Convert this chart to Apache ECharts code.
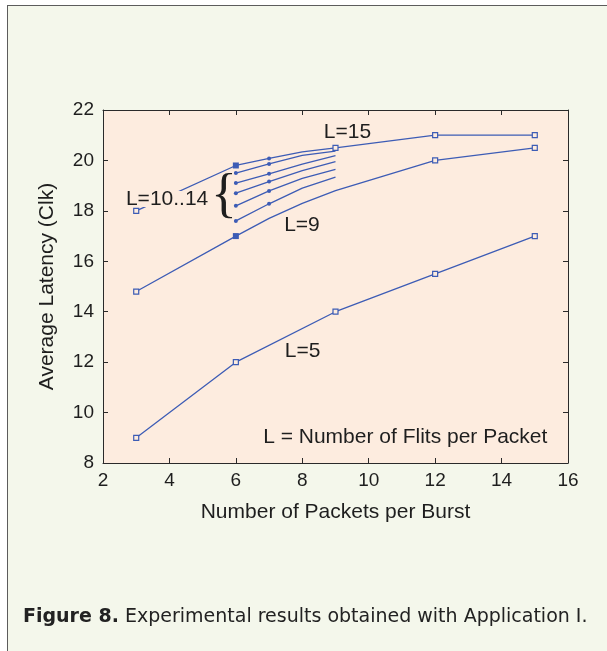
<!DOCTYPE html>
<html><head><meta charset="utf-8">
<script src="https://cdn.jsdelivr.net/npm/echarts@6/dist/echarts.min.js"></script>
<style>
html,body{margin:0;padding:0;background:#fff;}
#wrap{position:relative;width:607px;height:651px;overflow:hidden;background:#fff;}
#frame{position:absolute;left:7px;top:5px;width:700px;height:700px;background:#F4F7EB;border-left:1.5px solid #5c5c5c;border-top:1.5px solid #5c5c5c;}
#c{position:absolute;left:0;top:0;width:607px;height:651px;}
</style>
</head><body>
<div id="wrap"><div id="frame"></div><div id="c"></div></div>
<script>
// ---- data ----
const xTicks = [2, 4, 6, 8, 10, 12, 14, 16];
const yTicks = [8, 10, 12, 14, 16, 18, 20, 22];
const burstX = [3, 6, 7, 8, 9, 12, 15];        // x for L=9 and L=15
const L5x = [3, 6, 9, 12, 15];
const L5 = [9, 12, 14, 15.5, 17];
const L9 = [14.8, 17, 17.7, 18.3, 18.8, 20, 20.5];
const L15 = [18, 19.8, 20.08, 20.34, 20.5, 21, 21];
const midX = [6, 7, 8, 9];                     // x for L=10..14
const L14 = [19.5, 19.86, 20.2, 20.37];
const L13 = [19.1, 19.47, 19.85, 20.19];
const L12 = [18.7, 19.16, 19.6, 19.95];
const L11 = [18.2, 18.79, 19.29, 19.65];
const L10 = [17.6, 18.28, 18.9, 19.34];

// ---- styling ----
const BLUE = '#3D5CB5';
const PLOT_BG = '#FDECDF';
const FONT = "'Liberation Sans', Arial, Helvetica, sans-serif";
const TXT = '#1e1e1e';

const openSq = {symbol: 'rect', symbolSize: 5, itemStyle: {color: PLOT_BG, borderColor: BLUE, borderWidth: 1.2}};
const fillSq = {symbol: 'rect', symbolSize: 6, itemStyle: {color: BLUE, borderColor: BLUE, borderWidth: 0}};
const dot = {symbol: 'circle', symbolSize: 4, itemStyle: {color: BLUE, borderWidth: 0}};
const none = {symbol: 'none'};

function build(xs, ys, markerFor) {
  return xs.map((x, i) => Object.assign({value: [x, ys[i]]}, markerFor(x)));
}
function lineSeries(name, data) {
  return {
    name, type: 'line', data, z: 3,
    lineStyle: {color: BLUE, width: 1.3},
    itemStyle: {color: BLUE},
    showAllSymbol: true, silent: true, animation: false,
    emphasis: {disabled: true}
  };
}

const series = [
  lineSeries('L=5', build(L5x, L5, () => openSq)),
  lineSeries('L=9', build(burstX, L9, x => x === 6 ? fillSq : ([3, 12, 15].includes(x) ? openSq : none))),
  lineSeries('L=15', build(burstX, L15, x => x === 6 ? fillSq : (x === 7 ? dot : (x === 8 ? none : openSq)))),
];
[['L=14', L14], ['L=13', L13], ['L=12', L12], ['L=11', L11], ['L=10', L10]].forEach(([n, ys]) => {
  series.push(lineSeries(n, build(midX, ys, x => (x === 6 || x === 7) ? dot : none)));
});

const axisCommon = {
  type: 'value',
  axisLine: {show: true, onZero: false, lineStyle: {color: '#2a2a2a', width: 1}},
  axisTick: {show: true, inside: true, length: 5, lineStyle: {color: '#2a2a2a', width: 1}},
  splitLine: {show: false}
};

const chart = echarts.init(document.getElementById('c'), null, {renderer: 'canvas'});
chart.setOption({
  backgroundColor: 'transparent',
  animation: false,
  grid: {left: 103, top: 110, width: 465, height: 353, containLabel: false, outerBoundsMode: 'none',
         show: true, backgroundColor: PLOT_BG, borderWidth: 0},
  xAxis: [
    Object.assign({}, axisCommon, {
      min: xTicks[0], max: xTicks[xTicks.length - 1], interval: 2, position: 'bottom',
      axisLabel: {fontSize: 19, color: TXT, fontFamily: FONT, margin: 8},
      name: 'Number of Packets per Burst', nameLocation: 'middle', nameGap: 39,
      nameTextStyle: {fontSize: 21, color: TXT, fontFamily: FONT}
    }),
    Object.assign({}, axisCommon, {
      min: xTicks[0], max: xTicks[xTicks.length - 1], interval: 2, position: 'top',
      axisLabel: {show: false}
    })
  ],
  yAxis: [
    Object.assign({}, axisCommon, {
      min: yTicks[0], max: yTicks[yTicks.length - 1], interval: 2, position: 'left',
      axisLabel: {fontSize: 19, color: TXT, fontFamily: FONT, margin: 9},
      name: 'Average Latency (Clk)', nameLocation: 'middle', nameGap: 45,
      nameTextStyle: {fontSize: 21, color: TXT, fontFamily: FONT}
    }),
    Object.assign({}, axisCommon, {
      min: yTicks[0], max: yTicks[yTicks.length - 1], interval: 2, position: 'right',
      axisLabel: {show: false}
    })
  ],
  series
});

// annotations placed in data coordinates
const notes = [
  {text: 'L=15', at: [9.36, 21.1]},
  {text: 'L=10..14', at: [3.93, 18.47], mask: true},
  {text: 'L=9', at: [7.99, 17.45]},
  {text: 'L=5', at: [8.01, 12.42]},
  {text: 'L = Number of Flits per Packet', at: [11.1, 9.02]}
];
const graphics = notes.map(n => {
  const p = chart.convertToPixel({seriesIndex: 0}, n.at);
  const style = {text: n.text, x: p[0], y: p[1], align: 'center', verticalAlign: 'middle',
                 fontSize: 21, fontFamily: FONT, fill: TXT};
  if (n.mask) { style.backgroundColor = PLOT_BG; style.lineHeight = 16; }
  return {type: 'text', z: 100, silent: true, style};
});
const bp = chart.convertToPixel({seriesIndex: 0}, [5.64, 18.54]);
graphics.push({type: 'text', z: 100, silent: true, style: {
  text: '{', x: bp[0], y: bp[1], align: 'center', verticalAlign: 'middle',
  fontSize: 54, fontFamily: "'Liberation Serif', 'DejaVu Serif', serif", fill: TXT}});
const CAP_FONT = "'DejaVu Sans', 'Noto Sans', sans-serif";
graphics.push({type: 'text', z: 100, silent: true, left: 23, top: 608, style: {
  text: '{b|Figure 8.} Experimental results obtained with Application I.',
  fontSize: 19, fontFamily: CAP_FONT, fill: '#222',
  rich: {b: {fontWeight: 'bold', fontSize: 19, fontFamily: CAP_FONT, fill: '#222'}}
}});
chart.setOption({graphic: graphics});
</script>
</body></html>
